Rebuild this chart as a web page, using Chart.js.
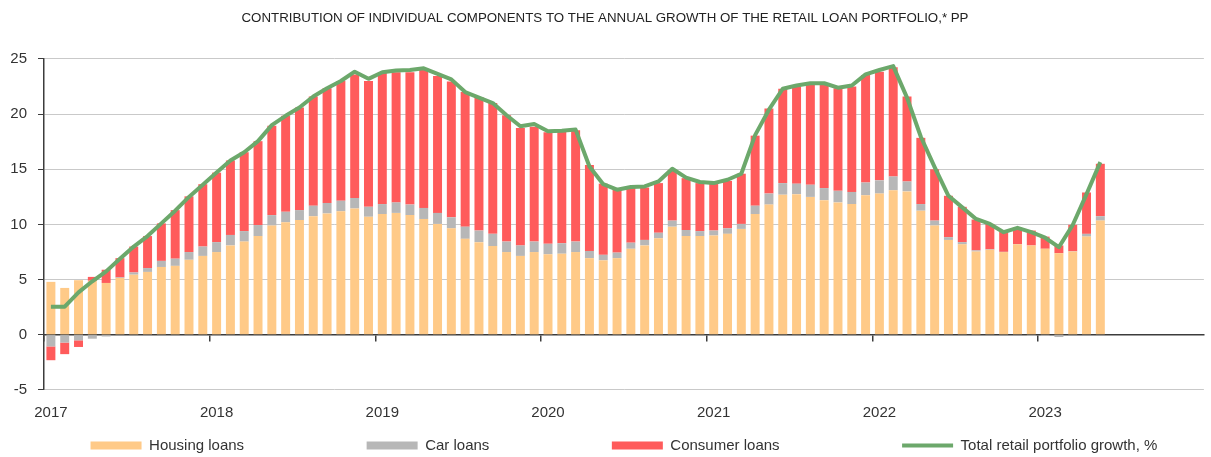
<!DOCTYPE html>
<html>
<head>
<meta charset="utf-8">
<script src="https://cdn.jsdelivr.net/npm/chart.js@4.4.0/dist/chart.umd.min.js"></script>
<style>
html, body { margin: 0; padding: 0; background: #fff; }
</style>
</head>
<body>
<canvas id="chart" width="1211" height="457"></canvas>
<script>
// axis years, one category per month
const years = ['2017', '2018', '2019', '2020', '2021', '2022', '2023'];
const monthNums = ['01', '02', '03', '04', '05', '06', '07', '08', '09', '10', '11', '12'];
const months = years.flatMap(y => monthNums.map(m => y + '-' + m));

// contributions, pp (Jan 2017 - May 2023)
const housing = [4.8, 4.25, 4.95, 4.9, 4.7, 5.15, 5.45, 5.7, 6.15, 6.25, 6.8, 7.15,
  7.5, 8.1, 8.45, 8.95, 9.9, 10.2, 10.4, 10.75, 11.0, 11.2, 11.45, 10.7,
  10.95, 11.05, 10.85, 10.5, 10.05, 9.65, 8.7, 8.4, 8.05, 7.5, 7.15, 7.5,
  7.3, 7.35, 7.5, 6.95, 6.75, 6.95, 7.8, 8.1, 8.75, 9.8, 8.95, 8.95,
  9.0, 9.15, 9.6, 10.95, 11.8, 12.7, 12.75, 12.5, 12.2, 12.0, 11.85, 12.65,
  12.8, 13.1, 13.0, 11.25, 9.9, 8.6, 8.2, 7.55, 7.7, 7.5, 8.2, 8.1,
  7.8, 7.4, 7.55, 8.9, 10.35];
const car = [-1.05, -0.7, -0.5, -0.35, -0.15, 0.05, 0.2, 0.35, 0.55, 0.65, 0.7, 0.85,
  0.9, 0.95, 0.95, 1.0, 0.95, 0.95, 0.9, 0.95, 0.95, 0.95, 0.95, 0.9,
  0.9, 0.95, 0.95, 1.0, 1.0, 1.0, 1.1, 1.05, 1.1, 0.95, 0.95, 0.95,
  0.95, 0.95, 0.95, 0.65, 0.5, 0.5, 0.55, 0.5, 0.5, 0.55, 0.55, 0.45,
  0.45, 0.5, 0.45, 0.75, 1.0, 1.05, 0.95, 1.1, 1.1, 1.05, 1.1, 1.15,
  1.2, 1.25, 0.9, 0.6, 0.45, 0.25, 0.2, 0.1, 0.05, 0.02, 0.02, -0.1,
  -0.1, -0.2, 0.02, 0.25, 0.4];
const consumer = [-1.25, -1.05, -0.6, 0.35, 1.2, 1.75, 2.35, 2.9, 3.4, 4.4, 5.05, 5.65,
  6.3, 6.75, 7.15, 7.6, 8.1, 8.7, 9.3, 9.9, 10.4, 10.85, 11.2, 11.4,
  11.9, 11.8, 12.0, 12.5, 12.4, 12.3, 12.2, 12.1, 11.85, 11.45, 10.65, 10.4,
  10.1, 10.2, 10.1, 7.8, 6.45, 5.7, 5.0, 4.75, 4.5, 4.6, 4.7, 4.35,
  4.3, 4.3, 4.55, 6.35, 7.7, 8.55, 8.8, 9.05, 9.35, 9.3, 9.55, 9.75,
  9.85, 9.9, 7.7, 6.0, 4.65, 3.75, 3.2, 2.8, 2.3, 1.8, 1.5, 1.35,
  1.1, 0.7, 2.4, 3.75, 4.75];
// total retail portfolio growth, %
const total = [2.55, 2.55, 3.85, 4.85, 5.75, 6.9, 8.0, 8.95, 10.1, 11.25, 12.5, 13.6,
  14.7, 15.8, 16.55, 17.55, 19.0, 19.85, 20.6, 21.6, 22.35, 23.0, 23.85, 23.2,
  23.8, 23.95, 24.0, 24.15, 23.65, 23.15, 22.0, 21.5, 21.0, 19.9, 18.9, 19.1,
  18.45, 18.5, 18.6, 15.25, 13.65, 13.15, 13.4, 13.45, 13.9, 15.05, 14.25, 13.85,
  13.75, 14.05, 14.6, 18.1, 20.4, 22.3, 22.6, 22.8, 22.8, 22.4, 22.6, 23.6,
  24.0, 24.35, 21.5, 17.95, 15.2, 12.6, 11.55, 10.5, 10.05, 9.3, 9.7, 9.3,
  8.8, 7.95, 9.95, 12.75, 15.65];

const FONT = "'Liberation Sans', Arial, sans-serif";
const AXIS = '#3c3c3c';
const legendGap = ' '.repeat(27);

const barDs = (label, data, color) => ({
  type: 'bar', label, data, backgroundColor: color, borderWidth: 0,
  barPercentage: 0.65, categoryPercentage: 1, stack: 'loans', order: 1,
  xAxisID: 'x', yAxisID: 'y'
});

new Chart(document.getElementById('chart'), {
  data: {
    labels: months,
    datasets: [
      barDs('Housing loans', housing, '#ffca88'),
      barDs('Car loans', car, '#b7b7b7'),
      barDs('Consumer loans', consumer, '#ff5b5b'),
      {
        type: 'line', label: 'Total retail portfolio growth, %', data: total,
        borderColor: '#6ca86b', backgroundColor: '#6ca86b', borderWidth: 4,
        pointRadius: 0, tension: 0, borderJoinStyle: 'round', order: 0,
        xAxisID: 'x', yAxisID: 'y'
      }
    ]
  },
  options: {
    responsive: false,
    animation: false,
    layout: { padding: { left: 0, right: 1, top: 0, bottom: 0 } },
    scales: {
      x: {
        type: 'category', stacked: true, offset: true, position: 'bottom',
        grid: { display: false, drawTicks: false, offset: true },
        border: { display: false },
        ticks: {
          autoSkip: false, maxRotation: 0, minRotation: 0, padding: 14,
          color: '#333', font: { family: FONT, size: 15 },
          callback(v) {
            const l = this.getLabelForValue(v);
            return l.endsWith('-01') ? l.slice(0, 4) : '';
          }
        },
        afterFit(s) { s.height = 38; }
      },
      x2: {
        type: 'category', position: { y: 0 }, offset: true, z: 1,
        grid: {
          drawOnChartArea: false, offset: true, tickLength: 6, lineWidth: 1.5,
          color: c => (c.index % 12 === 0 && c.index < months.length) ? AXIS : 'rgba(0,0,0,0)'
        },
        border: { display: true, color: AXIS, width: 1.5 },
        ticks: { display: false }
      },
      y: {
        stacked: true, min: -5, max: 25,
        ticks: { stepSize: 5, padding: 11, color: '#333', font: { family: FONT, size: 15 } },
        grid: { color: '#c9c9c9', tickColor: AXIS, tickLength: 6, lineWidth: 1 },
        border: { display: true, color: AXIS, width: 1.5 },
        afterFit(s) { s.width = 44; }
      }
    },
    plugins: {
      tooltip: { enabled: false },
      title: {
        display: true,
        text: 'CONTRIBUTION OF INDIVIDUAL COMPONENTS TO THE ANNUAL GROWTH OF THE RETAIL LOAN PORTFOLIO,* PP',
        color: '#222',
        font: { family: FONT, size: 13.3, weight: 'normal' },
        padding: { top: 10, bottom: 33 }
      },
      legend: {
        position: 'bottom', fullSize: false, align: 'center', maxHeight: 29,
        labels: {
          usePointStyle: true, pointStyleWidth: 51, boxHeight: 8, padding: 10,
          color: '#333', font: { family: FONT, size: 15 },
          generateLabels(chart) {
            const items = Chart.defaults.plugins.legend.labels.generateLabels(chart);
            items.sort((a, b) => a.datasetIndex - b.datasetIndex);
            const last = chart.data.datasets.length - 1;
            return items.map(it => {
              const ds = chart.data.datasets[it.datasetIndex];
              if (ds.type === 'line') {
                it.pointStyle = 'line';
                it.strokeStyle = ds.borderColor;
                it.lineWidth = 4;
              } else {
                it.pointStyle = 'rect';
                it.lineWidth = 0;
              }
              if (it.datasetIndex < last) it.text += legendGap;
              return it;
            });
          }
        }
      }
    }
  }
});
</script>
</body>
</html>
